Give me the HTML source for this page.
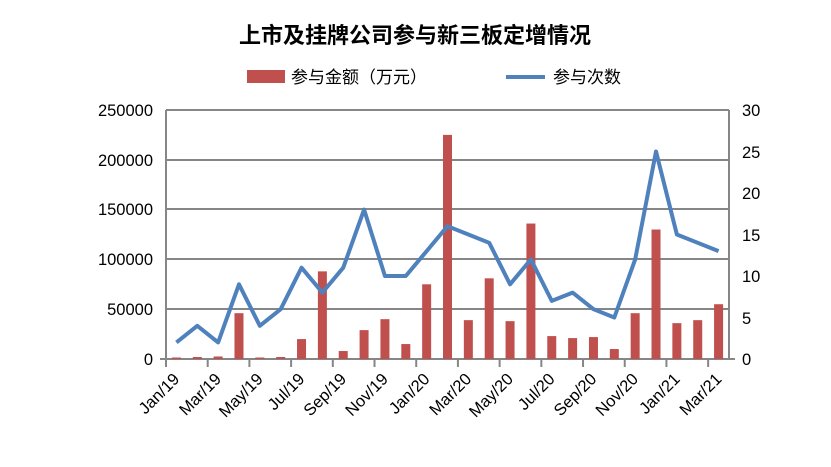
<!DOCTYPE html>
<html><head><meta charset="utf-8"><style>body{margin:0;background:#fff}svg{display:block}</style></head><body>
<svg width="831" height="467" xmlns="http://www.w3.org/2000/svg" font-family="Liberation Sans, Noto Sans CJK SC, sans-serif">
<text x="415" y="43" text-anchor="middle" font-size="22" font-weight="bold" fill="#000">上市及挂牌公司参与新三板定增情况</text>
<rect x="247" y="70" width="38" height="13" fill="#C0504D"/>
<text x="291" y="83" font-size="17" fill="#000">参与金额（万元）</text>
<line x1="506" y1="77" x2="545" y2="77" stroke="#4F81BD" stroke-width="4"/>
<text x="553" y="83" font-size="17" fill="#000">参与次数</text>
<g stroke="#868686" stroke-width="2">
<line x1="166" y1="110" x2="729" y2="110"/><line x1="166" y1="160" x2="729" y2="160"/><line x1="166" y1="209" x2="729" y2="209"/><line x1="166" y1="259" x2="729" y2="259"/><line x1="166" y1="309" x2="729" y2="309"/><line x1="160" y1="359" x2="735" y2="359"/>
<line x1="166" y1="110" x2="166" y2="367"/><line x1="729" y1="110" x2="729" y2="359"/>
</g>
<g id="ticks" stroke="#868686" stroke-width="2"></g>
<g font-size="16.5" fill="#000" text-anchor="end">
<text x="153" y="116">250000</text><text x="153" y="166">200000</text><text x="153" y="215">150000</text><text x="153" y="265">100000</text><text x="153" y="315">50000</text><text x="153" y="365">0</text>
</g>
<g font-size="16.5" fill="#000">
<text x="742" y="116">30</text><text x="742" y="158">25</text><text x="742" y="199">20</text><text x="742" y="241">15</text><text x="742" y="282">10</text><text x="742" y="324">5</text><text x="742" y="365">0</text>
</g>
<g id="bars" fill="#C0504D"></g>
<polyline id="line" fill="none" stroke="#4F81BD" stroke-width="4" stroke-linejoin="round"/>
<g id="labels" font-size="16.5" fill="#000" text-anchor="end"></g>
<script>
var amt=[1500,2000,2500,46000,1500,2000,20000,88000,8000,29000,40000,15000,75000,225000,39000,81000,38000,136000,23000,21000,22000,10000,46000,130000,36000,39000,55000];
var cnt=[2,4,2,9,4,6,11,8,11,18,10,10,13,16,15,14,9,12,7,8,6,5,12,25,15,14,13];
var L=166,R=729,T=110,B=359,w=(R-L)/27,ns="http://www.w3.org/2000/svg",pts=[];
var mon=["Jan","Mar","May","Jul","Sep","Nov"];
for(var i=0;i<27;i++){var cx=L+w*(i+0.5);var h=amt[i]/250000*(B-T);
var r=document.createElementNS(ns,"rect");r.setAttribute("x",cx-4.5);r.setAttribute("y",B-h);r.setAttribute("width",9);r.setAttribute("height",h);document.getElementById("bars").appendChild(r);
pts.push(cx+","+(B-cnt[i]/30*(B-T)));
if(i%2==0){var yr=19+Math.floor(i/12);var t=document.createElementNS(ns,"text");t.setAttribute("transform","translate("+(cx+4)+",380) rotate(-45)");t.textContent=mon[(i%12)/2]+"/"+yr;document.getElementById("labels").appendChild(t);}
}
for(var k=0;k<=13;k++){var x=L+2*w*k;var l=document.createElementNS(ns,"line");l.setAttribute("x1",x);l.setAttribute("x2",x);l.setAttribute("y1",359);l.setAttribute("y2",367);document.getElementById("ticks").appendChild(l);}
document.getElementById("line").setAttribute("points",pts.join(" "));
</script>
</svg>
</body></html>
